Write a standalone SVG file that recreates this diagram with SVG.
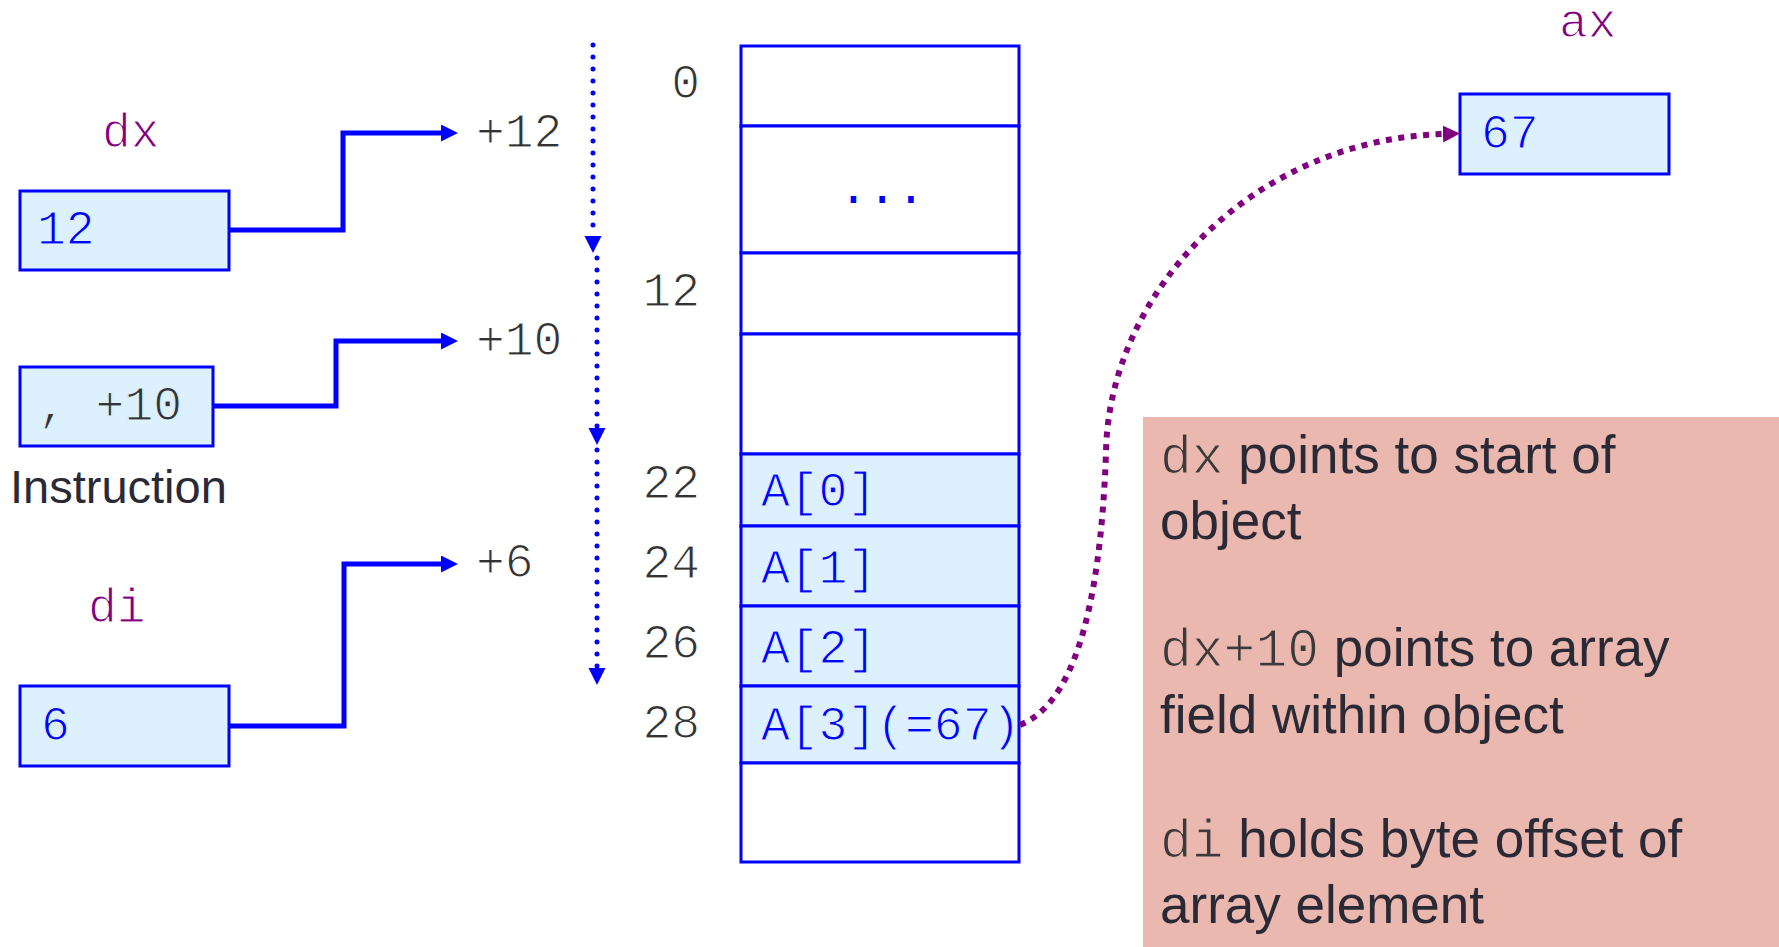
<svg xmlns="http://www.w3.org/2000/svg" width="1779" height="947" viewBox="0 0 1779 947">
<defs>
<style>
.mono{font-family:"Liberation Mono","DejaVu Sans Mono",monospace;font-size:48px;stroke-width:1.1px}
.onW{stroke:#ffffff}
.onB{stroke:#dcf0fe}
.sans{font-family:"Liberation Sans",Arial,sans-serif}
.reg{fill:#dcf0fe;stroke:#0000ff;stroke-width:3}
.cell{fill:#ffffff;stroke:#0000ff;stroke-width:3}
.acell{fill:#dcf0fe;stroke:#0000ff;stroke-width:3}
.blue{fill:#0000ff}
.purple{fill:#800080}
.gray{fill:#333333}
.step{fill:none;stroke:#0000ff;stroke-width:5;marker-end:url(#arrB)}
.dots{fill:none;stroke:#0000ff;stroke-width:5;stroke-linecap:round;stroke-dasharray:0 12;marker-end:url(#arrB)}
.ptr{fill:none;stroke:#800080;stroke-width:6;stroke-dasharray:6 6.5;marker-end:url(#arrP)}
.note{font-family:"Liberation Sans",Arial,sans-serif;font-size:53px;fill:#2a2a36}
.notemono{font-family:"Liberation Mono","DejaVu Sans Mono",monospace;font-size:53px;fill:#3a3a3a;stroke:#ebb8af;stroke-width:1.2px}
</style>
<marker id="arrB" markerUnits="userSpaceOnUse" markerWidth="18" markerHeight="18" refX="0" refY="8.5" orient="auto">
<path d="M0,0 L17,8.5 L0,17 Z" fill="#0000ff"/>
</marker>
<marker id="arrP" markerUnits="userSpaceOnUse" markerWidth="18" markerHeight="18" refX="0" refY="8.5" orient="auto">
<path d="M0,0 L17,8.5 L0,17 Z" fill="#800080"/>
</marker>
</defs>
<rect x="0" y="0" width="1779" height="947" fill="#ffffff"/>

<g id="note">
<rect x="1143" y="417" width="636" height="530" fill="#ebb8af"/>
<text class="note" x="1160" y="473"><tspan class="notemono">dx</tspan> points to start of</text>
<text class="note" x="1160" y="539">object</text>
<text class="note" x="1160" y="666"><tspan class="notemono">dx+10</tspan> points to array</text>
<text class="note" x="1160" y="733">field within object</text>
<text class="note" x="1160" y="857"><tspan class="notemono">di</tspan> holds byte offset of</text>
<text class="note" x="1160" y="923">array element</text>
</g>

<g id="reg-dx">
<text class="mono purple onW" x="102" y="147">dx</text>
<rect class="reg" x="20" y="191" width="209" height="79"/>
<text class="mono blue onB" x="37" y="244">12</text>
</g>

<g id="instr">
<rect class="reg" x="20" y="367" width="193" height="79"/>
<text class="mono gray onB" x="38" y="420">, +10</text>
<text class="sans" x="10" y="503" font-size="47" fill="#2a2a36">Instruction</text>
</g>

<g id="reg-di">
<text class="mono purple onW" x="88" y="622">di</text>
<rect class="reg" x="20" y="686" width="209" height="80"/>
<text class="mono blue onB" x="41" y="740">6</text>
</g>

<g id="reg-ax">
<text class="mono purple onW" x="1559" y="37">ax</text>
<rect class="reg" x="1460" y="94" width="209" height="80"/>
<text class="mono blue onB" x="1481" y="148">67</text>
</g>

<g id="offsets">
<text class="mono gray onW" x="476" y="147">+12</text>
<text class="mono gray onW" x="476" y="355">+10</text>
<text class="mono gray onW" x="476" y="577">+6</text>
</g>

<g id="memory">
<rect class="cell" x="741" y="46" width="278" height="80"/>
<rect class="cell" x="741" y="126" width="278" height="127"/>
<text class="mono blue" x="839" y="203">...</text>
<rect class="cell" x="741" y="253" width="278" height="81"/>
<rect class="cell" x="741" y="334" width="278" height="120"/>
<rect class="acell" x="741" y="454" width="278" height="72"/>
<text class="mono blue onB" x="761" y="506">A[0]</text>
<rect class="acell" x="741" y="526" width="278" height="80"/>
<text class="mono blue onB" x="761" y="583">A[1]</text>
<rect class="acell" x="741" y="606" width="278" height="80"/>
<text class="mono blue onB" x="761" y="663">A[2]</text>
<rect class="acell" x="741" y="686" width="278" height="77"/>
<text class="mono blue onB" x="761" y="740">A[3](=67)</text>
<rect class="cell" x="741" y="763" width="278" height="99"/>
<text class="mono gray onW" x="700" y="98" text-anchor="end">0</text>
<text class="mono gray onW" x="700" y="306" text-anchor="end">12</text>
<text class="mono gray onW" x="700" y="498" text-anchor="end">22</text>
<text class="mono gray onW" x="700" y="578" text-anchor="end">24</text>
<text class="mono gray onW" x="700" y="658" text-anchor="end">26</text>
<text class="mono gray onW" x="700" y="738" text-anchor="end">28</text>
</g>

<g id="connectors">
<path class="step" d="M229,230 H343 V133 H441"/>
<path class="step" d="M213,406 H336 V341 H441"/>
<path class="step" d="M229,726 H344 V564 H441"/>
<path class="dots" d="M593,45 V236"/>
<path class="dots" d="M597,258 V428"/>
<path class="dots" d="M597,450 V668"/>
<path class="ptr" d="M1020,725 C1070,705 1100,620 1106,453 C1108,295 1250,140 1443,134"/>
</g>
</svg>
